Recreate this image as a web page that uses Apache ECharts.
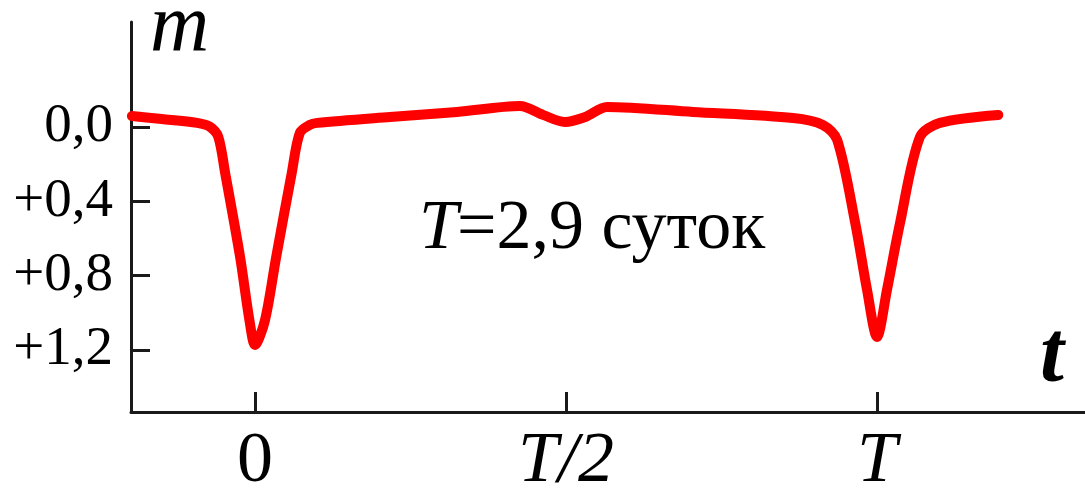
<!DOCTYPE html>
<html>
<head>
<meta charset="utf-8">
<script src="https://cdn.jsdelivr.net/npm/echarts@6/dist/echarts.min.js"></script>
<style>
    html, body { margin: 0; padding: 0; background: #fff; }
    #e1 { width: 1085px; height: 489px; }
</style>
</head>
<body>
<div id="e1"></div>
<script>
// фаза (в долях периода T) и блеск m
var phase = [-0.198, -0.15, -0.093, -0.072, -0.059, -0.048, -0.024, -0.009, 0, 0.016, 0.034, 0.059, 0.072, 0.088, 0.100,
    0.217, 0.325, 0.426, 0.463, 0.498, 0.531, 0.566, 0.704, 0.865, 0.913, 0.936, 0.965, 0.984, 1.0, 1.016, 1.037,
    1.069, 1.101, 1.195];
var mag = [-0.059, -0.043, -0.022, 0.0, 0.054, 0.248, 0.700, 1.04, 1.173, 1.04, 0.700, 0.248, 0.032, -0.011, -0.022,
    -0.054, -0.081, -0.113, -0.065, -0.027, -0.054, -0.108, -0.081, -0.048, -0.011, 0.070, 0.517, 0.877, 1.130, 0.877, 0.517,
    0.054, -0.022, -0.065];
var yTickVals = [0, 0.4, 0.8, 1.2];
var yTickText = ['0,0', '+0,4', '+0,8', '+1,2'];
var xTickVals = [0, 0.5, 1];
var xTickText = ['0', 'T/2', 'T'];

var e1 = echarts.init(document.getElementById('e1'));
var serif = 'Liberation Serif';
var axisColor = '#1a1a1a';

var lineData = [];
for (var i = 0; i < phase.length; i++) {
    lineData.push([phase[i], mag[i]]);
}

var option1 = {
    backgroundColor: '#fff',
    animation: false,
    grid: {
        left: 131,
        right: 0,
        top: 22,
        bottom: 77,
        containLabel: false,
        outerBoundsMode: 'none'
    },
    xAxis: {
        type: 'value',
        min: -0.1994,
        max: 1.3344,
        axisLine: { show: true, onZero: false, lineStyle: { color: axisColor, width: 3 } },
        axisTick: {
            show: true,
            inside: true,
            length: 20,
            customValues: xTickVals,
            lineStyle: { color: axisColor, width: 3 }
        },
        axisLabel: {
            customValues: xTickVals,
            margin: 14,
            fontFamily: serif,
            fontSize: 72,
            color: '#000',
            formatter: function (v) {
                var idx = xTickVals.indexOf(v);
                var s = idx > -1 ? xTickText[idx] : '';
                return s === '0' ? s : '{i|' + s + '}';
            },
            rich: {
                i: { fontFamily: serif, fontSize: 72, fontStyle: 'italic', color: '#000' }
            }
        },
        splitLine: { show: false }
    },
    yAxis: {
        type: 'value',
        inverse: true,
        min: -0.565,
        max: 1.534,
        axisLine: { show: true, onZero: false, lineStyle: { color: axisColor, width: 3 } },
        axisTick: {
            show: true,
            inside: true,
            length: 19,
            customValues: yTickVals,
            lineStyle: { color: axisColor, width: 3 }
        },
        axisLabel: {
            customValues: yTickVals,
            margin: 18,
            fontFamily: serif,
            fontSize: 55,
            color: '#000',
            formatter: function (v) {
                var idx = yTickVals.indexOf(v);
                return idx > -1 ? yTickText[idx] : '';
            }
        },
        splitLine: { show: false }
    },
    graphic: [{
        type: 'text',
        left: 150,
        top: -13,
        style: { text: 'm', fontFamily: serif, fontSize: 82, fontStyle: 'italic', fill: '#000' }
    }, {
        type: 'text',
        left: 1040,
        top: 316,
        style: { text: 't', fontFamily: serif, fontSize: 86, fontStyle: 'italic', fontWeight: 'bold', fill: '#000' }
    }, {
        type: 'text',
        left: 419,
        top: 195,
        style: { text: 'T', fontFamily: serif, fontSize: 70, fontStyle: 'italic', fill: '#000' }
    }, {
        type: 'text',
        left: 457,
        top: 195,
        style: { text: '=2,9 суток', fontFamily: serif, fontSize: 70, fontStyle: 'normal', fill: '#000' }
    }],
    series: [{
        type: 'line',
        data: lineData,
        smooth: 0.3,
        showSymbol: false,
        lineStyle: { color: '#ff0000', width: 10, cap: 'round', join: 'round' }
    }]
};
e1.setOption(option1);
</script>
</body>
</html>
